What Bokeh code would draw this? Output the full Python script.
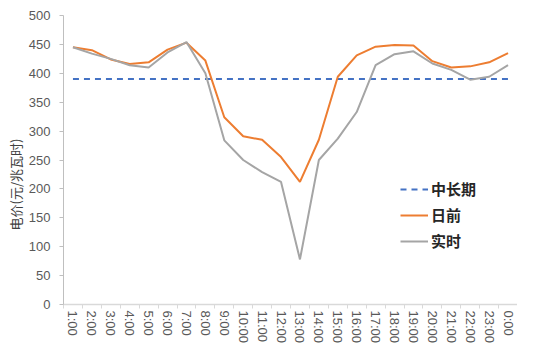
from bokeh.plotting import figure
from bokeh.models import Range1d, FixedTicker, Legend, LegendItem, Title
from bokeh.embed import file_html
from bokeh.resources import INLINE

hours = ["1:00", "2:00", "3:00", "4:00", "5:00", "6:00", "7:00", "8:00", "9:00", "10:00",
         "11:00", "12:00", "13:00", "14:00", "15:00", "16:00", "17:00", "18:00", "19:00",
         "20:00", "21:00", "22:00", "23:00", "0:00"]
mid_long = [390] * 24
day_ahead = [445, 440, 424, 416, 419, 441, 453, 422, 324, 291, 285, 255, 212, 285,
             394, 431, 446, 449, 448, 421, 410, 412, 419, 435]
real_time = [445, 434, 425, 414, 410, 436, 454, 400, 284, 250, 229, 212, 78, 250,
             287, 333, 414, 433, 438, 417, 406, 389, 394, 414]
y_ticks = list(range(0, 501, 50))

xs = list(range(1, len(hours) + 1))

p = figure(width=517, height=346, output_backend="svg", toolbar_location=None,
           x_range=Range1d(0.5, len(hours) + 0.5), y_range=Range1d(0, 500),
           min_border_left=63, min_border_top=15, min_border_right=0, min_border_bottom=41)
p.outline_line_color = None
p.xgrid.visible = False
p.ygrid.visible = False
p.background_fill_color = "white"
p.border_fill_color = "white"

r_mid = p.line(xs, mid_long, line_color="#4472C4", line_width=2, line_dash="6 5")
r_day = p.line(xs, day_ahead, line_color="#ED7D31", line_width=2)
r_rt = p.line(xs, real_time, line_color="#A5A5A5", line_width=2)

# x axis
xa = p.xaxis[0]
xa.ticker = FixedTicker(ticks=xs, minor_ticks=[x - 0.5 for x in xs] + [len(hours) + 0.5])
xa.major_label_overrides = {x: h for x, h in zip(xs, hours)}
xa.major_label_orientation = "vertical"
xa.major_tick_line_color = None
xa.major_tick_out = 4
xa.major_tick_in = 0
xa.minor_tick_line_color = "#d9d9d9"
xa.minor_tick_out = 4
xa.minor_tick_in = 0
xa.axis_line_color = "#d9d9d9"
xa.axis_line_width = 1.5
xa.major_label_standoff = 2
xa.major_label_text_font = "Liberation Sans"
xa.major_label_text_font_size = "13px"
xa.major_label_text_color = "#595959"

# y axis
ya = p.yaxis[0]
ya.ticker = FixedTicker(ticks=y_ticks)
ya.minor_tick_line_color = None
ya.major_tick_line_color = "#bfbfbf"
ya.major_tick_out = 4
ya.major_tick_in = 0
ya.axis_line_color = "#bfbfbf"
ya.major_label_standoff = 9
ya.major_label_text_font = "Liberation Sans"
ya.major_label_text_font_size = "13px"
ya.major_label_text_color = "#595959"

ytitle = Title(text="电价(元/兆瓦时)", align="left", offset=74, standoff=2,
               text_font="Noto Sans CJK SC", text_font_size="13px",
               text_font_style="normal", text_color="#404040")
p.add_layout(ytitle, "left")

legend = Legend(items=[LegendItem(label="中长期", renderers=[r_mid]),
                       LegendItem(label="日前", renderers=[r_day]),
                       LegendItem(label="实时", renderers=[r_rt])],
                location=(337, 53))
legend.padding = 0
legend.margin = 0
legend.spacing = 5
legend.border_line_color = None
legend.background_fill_alpha = 0
legend.glyph_width = 28
legend.glyph_height = 20
legend.label_height = 20
legend.label_standoff = 3
legend.label_text_font = "Noto Sans CJK SC"
legend.label_text_font_size = "15px"
legend.label_text_font_style = "bold"
legend.label_text_color = "#262626"
p.add_layout(legend, "center")

open("out.html", "w").write(file_html(p, INLINE))
